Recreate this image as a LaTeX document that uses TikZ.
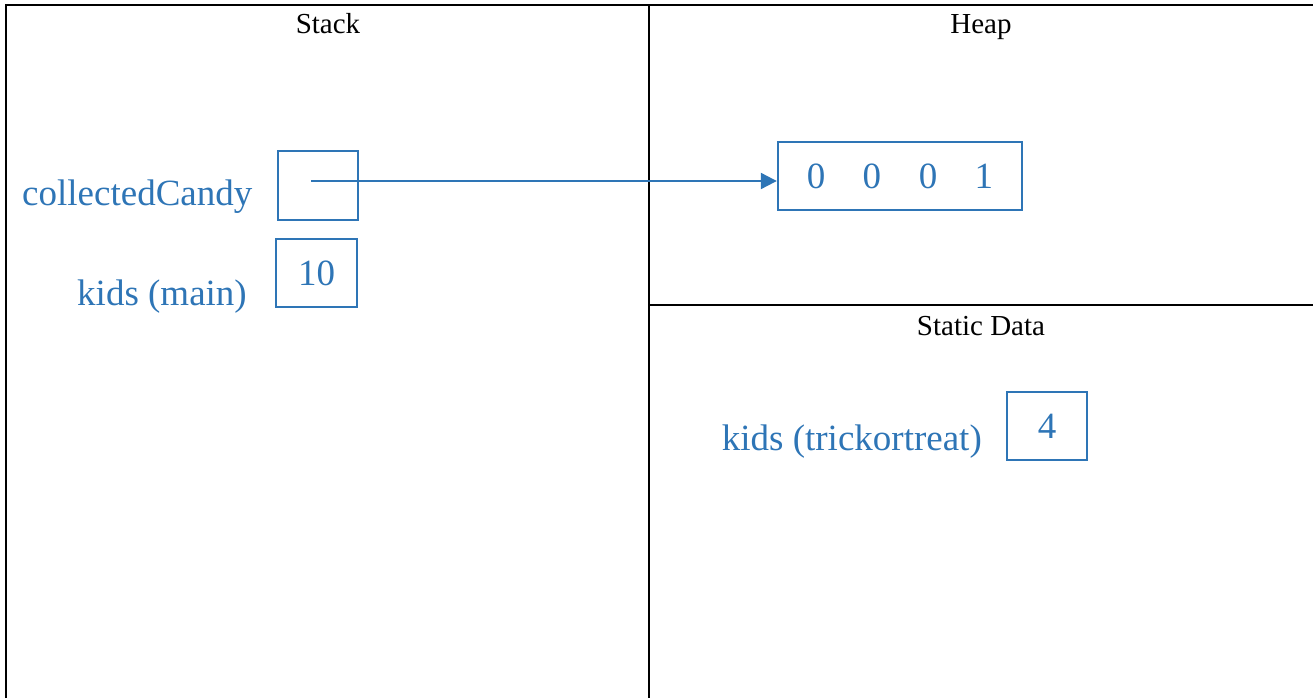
\documentclass[tikz,border=0pt]{standalone}
\usepackage{fontspec}
\setmainfont{Liberation Serif}
\usetikzlibrary{arrows.meta}
\definecolor{varblue}{RGB}{46,117,182}
\tikzset{
  frame/.style={line width=2.6pt, black},
  heading/.style={inner sep=0pt, black, font=\fontsize{29}{32}\selectfont},
  varname/.style={inner sep=0pt, text=varblue, font=\fontsize{37}{40}\selectfont},
  cell/.style={draw=varblue, line width=2.4pt, inner sep=0pt, text=varblue,
    font=\fontsize{37}{40}\selectfont},
  pointer/.style={draw=varblue, line width=2.2pt,
    -{Triangle[length=16pt,width=16pt]}}
}
\begin{document}
\begin{tikzpicture}[x=1pt,y=-1pt]
  \useasboundingbox (0,0) rectangle (1313,698);

  % memory regions
  \draw[frame] (6,698) -- (6,5) -- (1313,5);
  \draw[frame] (649,5) -- (649,698);
  \draw[frame] (649,305) -- (1313,305);

  % region titles
  \node[heading, anchor=base] (stackT) at (328,34) {Stack};
  \node[heading, anchor=base] (heapT) at (981,34) {Heap};
  \node[heading, anchor=base] (staticT) at (981,335) {Static Data};

  % stack frame of main
  \node[varname, anchor=base west] (ccName) at (22,205) {collectedCandy};
  \node[cell, minimum width=80pt, minimum height=69pt] (ccBox) at (318,185.5) {};
  \node[varname, anchor=base east] (kmName) at (247,305) {kids (main)};
  \node[cell, minimum width=81pt, minimum height=68pt] (kmBox) at (316.5,273) {10};

  % heap array
  \node[cell, minimum width=244pt, minimum height=68pt] (arr) at (900,176)
    {0\hspace{37.5pt}0\hspace{37.5pt}0\hspace{37.5pt}1};

  % static variable
  \node[varname, anchor=base east] (ktName) at (982,450) {kids (trickortreat)};
  \node[cell, minimum width=80pt, minimum height=68pt] (ktBox) at (1047,426) {4};

  % reference from the stack variable to the array
  \coordinate (ref) at (311,181);
  \draw[pointer] (ref) -- (ref -| arr.west);
\end{tikzpicture}
\end{document}
